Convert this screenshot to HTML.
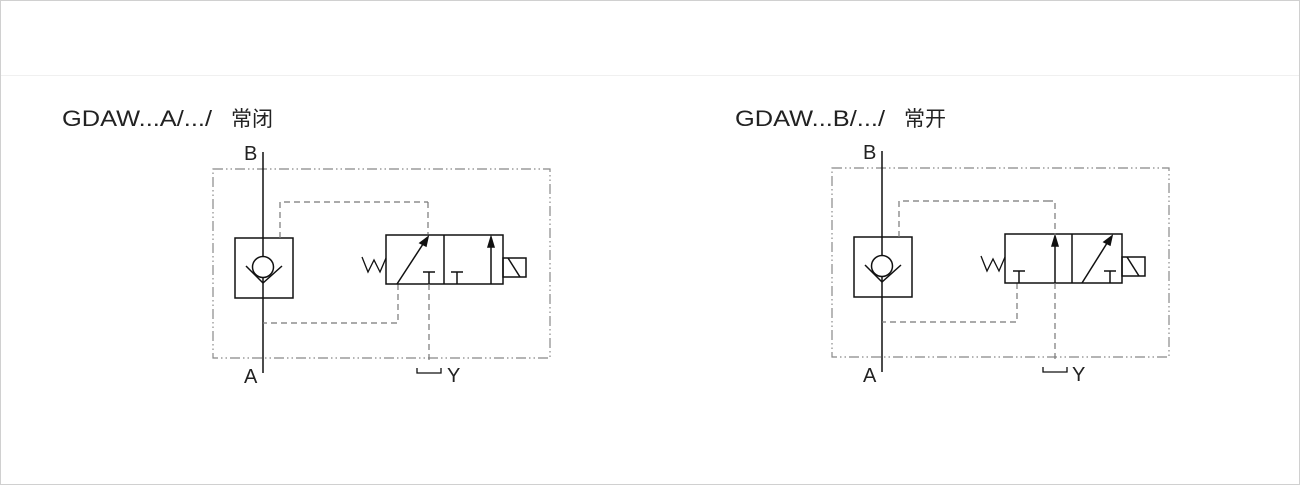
<!DOCTYPE html>
<html><head><meta charset="utf-8"><style>
html,body{margin:0;padding:0;background:#fff;}
svg{display:block;}
</style></head><body>
<svg width="1300" height="485" viewBox="0 0 1300 485" xmlns="http://www.w3.org/2000/svg">
<rect x="0.5" y="0.5" width="1299" height="484" fill="#fff" stroke="#d0d0d0"/>
<line x1="1" y1="75.5" x2="1299" y2="75.5" stroke="#f0f0f0"/>
<g font-family="'Liberation Sans','Noto Sans CJK SC',sans-serif" font-size="22" fill="#222">
<text x="62" y="126" textLength="150" lengthAdjust="spacingAndGlyphs">GDAW...A/.../</text>
<text x="231" y="126" font-size="21" textLength="42">常闭</text>
<text x="735" y="126" textLength="150" lengthAdjust="spacingAndGlyphs">GDAW...B/.../</text>
<text x="904" y="126" font-size="21" textLength="42">常开</text>
</g>
<defs>
<g id="common" fill="none" stroke="#111" stroke-width="1.5">
<rect x="213" y="169" width="337" height="189" stroke="#888" stroke-width="1.2" stroke-dasharray="10,3,1.5,3,1.5,3"/>
<line x1="263" y1="152" x2="263" y2="373"/>
<rect x="235" y="238" width="58" height="60"/>
<circle cx="263" cy="267" r="10.5" fill="#fff"/>
<polyline points="246,266 263,283 282,266"/>
<path d="M280 238 V202 H428" stroke="#777" stroke-width="1.2" stroke-dasharray="6,4"/>
<path d="M398 284 V323 H263" stroke="#777" stroke-width="1.2" stroke-dasharray="6,4"/>
<rect x="386" y="235" width="117" height="49"/>
<rect x="503" y="258" width="23" height="19"/>
<line x1="508" y1="258" x2="520" y2="277"/>
<polyline points="362,257 368,272 374,260 380,272 386,258" stroke-width="1.3"/>
<g font-family="'Liberation Sans',sans-serif" font-size="20" fill="#222" stroke="none">
<text x="244" y="160">B</text>
<text x="244" y="383">A</text>
</g>
</g>
</defs>
<use href="#common"/>
<g fill="none" stroke="#111" stroke-width="1.5">
<line x1="444" y1="235" x2="444" y2="284"/>
<line x1="397" y1="284" x2="425" y2="241"/>
<polygon points="428,237 420,243 426,246" fill="#111"/>
<path d="M423 272 H435 M429 272 V284"/>
<path d="M451 272 H463 M457 272 V284"/>
<line x1="491" y1="284" x2="491" y2="245"/>
<polygon points="491,237 488,247 494,247" fill="#111"/>
<path d="M428 202 V234" stroke="#777" stroke-width="1.2" stroke-dasharray="6,4"/>
<path d="M429 284 V363" stroke="#777" stroke-width="1.2" stroke-dasharray="6,4"/>
<polyline points="417,368 417,373 441,373 441,368" stroke-width="1.3"/>
</g>
<text x="447" y="382" font-family="'Liberation Sans',sans-serif" font-size="20" fill="#222">Y</text>
<g transform="translate(619,-1)">
<use href="#common"/>
<g fill="none" stroke="#111" stroke-width="1.5">
<line x1="453" y1="235" x2="453" y2="284"/>
<path d="M394 272 H406 M400 272 V284"/>
<line x1="436" y1="284" x2="436" y2="245"/>
<polygon points="436,237 433,247 439,247" fill="#111"/>
<line x1="463" y1="284" x2="490" y2="241"/>
<polygon points="493,237 485,243 491,246" fill="#111"/>
<path d="M485 272 H497 M491 272 V284"/>
<path d="M428 202 H436 V236" stroke="#777" stroke-width="1.2" stroke-dasharray="6,4"/>
<path d="M436 284 V363" stroke="#777" stroke-width="1.2" stroke-dasharray="6,4"/>
<polyline points="424,368 424,373 448,373 448,368" stroke-width="1.3"/>
</g>
<text x="453" y="382" font-family="'Liberation Sans',sans-serif" font-size="20" fill="#222">Y</text>
</g>
</svg>
</body></html>
